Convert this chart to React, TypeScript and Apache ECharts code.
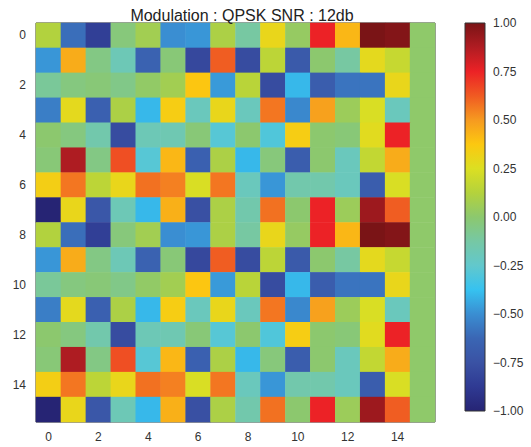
import React, { useEffect, useRef } from "react";
import * as echarts from "echarts";

const xCategories = ["0","1","2","3","4","5","6","7","8","9","10","11","12","13","14","15"];
const yCategories = ["0","1","2","3","4","5","6","7","8","9","10","11","12","13","14","15"];

const row0 = [0.12, -0.6, -0.85, -0.03, 0.07, -0.5, -0.48, 0.1, -0.12, 0.3, 0.03, 0.75, 0.42, 1.0, 0.98, 0.01];
const row1 = [-0.48, 0.45, -0.05, -0.18, -0.65, -0.02, -0.8, 0.62, -0.78, 0.15, -0.7, 0.0, -0.12, 0.28, 0.18, 0.01];
const row2 = [-0.1, -0.04, -0.02, -0.06, 0.02, 0.07, 0.38, -0.47, 0.14, -0.78, -0.4, -0.68, -0.58, -0.58, 0.3, 0.01];
const row3 = [-0.55, 0.28, -0.66, 0.1, -0.4, 0.35, -0.2, 0.3, -0.2, 0.57, -0.52, 0.48, 0.05, 0.24, -0.2, 0.01];
const row4 = [0.0, -0.04, -0.15, -0.78, -0.18, -0.17, -0.02, -0.28, 0.0, -0.3, 0.35, 0.0, -0.02, 0.27, 0.75, 0.01];
const row5 = [-0.02, 0.88, -0.05, 0.65, -0.28, 0.42, -0.66, 0.1, -0.4, -0.03, -0.68, 0.0, -0.2, 0.17, 0.45, 0.01];
const row6 = [0.34, 0.57, 0.15, 0.3, 0.58, 0.55, 0.24, 0.57, -0.2, -0.48, -0.15, -0.15, -0.2, -0.68, 0.24, 0.01];
const row7 = [-1.0, 0.3, -0.72, -0.18, -0.4, 0.44, -0.76, 0.1, -0.15, 0.58, 0.0, 0.75, 0.05, 0.92, 0.62, 0.01];
const row8 = [0.12, -0.6, -0.85, -0.03, 0.07, -0.5, -0.48, 0.1, -0.12, 0.3, 0.03, 0.75, 0.42, 1.0, 0.98, 0.01];
const row9 = [-0.48, 0.45, -0.05, -0.18, -0.65, -0.02, -0.8, 0.62, -0.78, 0.15, -0.7, 0.0, -0.12, 0.28, 0.18, 0.01];
const row10 = [-0.1, -0.04, -0.02, -0.06, 0.02, 0.07, 0.38, -0.47, 0.14, -0.78, -0.4, -0.68, -0.58, -0.58, 0.3, 0.01];
const row11 = [-0.55, 0.28, -0.66, 0.1, -0.4, 0.35, -0.2, 0.3, -0.2, 0.57, -0.52, 0.48, 0.05, 0.24, -0.2, 0.01];
const row12 = [0.0, -0.04, -0.15, -0.78, -0.18, -0.17, -0.02, -0.28, 0.0, -0.3, 0.35, 0.0, -0.02, 0.27, 0.75, 0.01];
const row13 = [-0.02, 0.88, -0.05, 0.65, -0.28, 0.42, -0.66, 0.1, -0.4, -0.03, -0.68, 0.0, -0.2, 0.17, 0.45, 0.01];
const row14 = [0.34, 0.57, 0.15, 0.3, 0.58, 0.55, 0.24, 0.57, -0.2, -0.48, -0.15, -0.15, -0.2, -0.68, 0.24, 0.01];
const row15 = [-1.0, 0.3, -0.72, -0.18, -0.4, 0.44, -0.76, 0.1, -0.15, 0.58, 0.0, 0.75, 0.05, 0.92, 0.62, 0.01];

const rows = [row0, row1, row2, row3, row4, row5, row6, row7, row8, row9, row10, row11, row12, row13, row14, row15];

const colorStops = [
  "#262474", "#2f3a93", "#3a52a4", "#3a66b4", "#3a8ed2", "#36c2f0",
  "#62c8cc", "#76c8a4", "#8cc86e", "#b4d23c", "#dcdf22", "#fcc810",
  "#f69a20", "#f05a22", "#ec2226", "#b01c22", "#7a1416",
];

export default function App() {
  const ref = useRef<HTMLDivElement>(null);
  useEffect(() => {
    if (!ref.current) return;
    const chart = echarts.init(ref.current, null, { renderer: "svg" });
    const data: number[][] = [];
    rows.forEach((r, yi) => r.forEach((v, xi) => data.push([xi, yi, v])));

    const cbLeft = 465, cbTop = 23, cbW = 20, cbH = 388;
    const n = colorStops.length;
    const gradStops = colorStops.map((_, i) => ({ offset: i / (n - 1), color: colorStops[n - 1 - i] }));

    chart.setOption({
      animation: false,
      backgroundColor: "#ffffff",
      textStyle: { fontFamily: "Liberation Sans, Arial, sans-serif" },
      title: {
        text: "Modulation : QPSK SNR : 12db",
        left: 237,
        top: 2,
        textAlign: "center",
        textStyle: { fontSize: 16, fontWeight: "normal", color: "#222" },
      },
      grid: [
        { left: 36, top: 23, width: 399, height: 399, show: true, borderColor: "#333", borderWidth: 1, backgroundColor: "transparent" },
        { left: cbLeft, top: cbTop, width: cbW, height: cbH, show: false },
      ],
      xAxis: [
        {
          type: "category",
          gridIndex: 0,
          data: xCategories,
          axisLine: { show: false },
          axisTick: { show: false },
          splitLine: { show: false },
          axisLabel: { interval: 1, color: "#333", fontSize: 12, margin: 9 },
        },
        { type: "value", gridIndex: 1, show: false, min: 0, max: 1 },
      ],
      yAxis: [
        {
          type: "category",
          gridIndex: 0,
          data: yCategories,
          inverse: true,
          axisLine: { show: false },
          axisTick: { show: false },
          splitLine: { show: false },
          axisLabel: { interval: 1, color: "#333", fontSize: 12, margin: 10 },
        },
        {
          type: "value",
          gridIndex: 1,
          position: "right",
          min: -1,
          max: 1,
          interval: 0.25,
          axisLine: { show: false },
          axisTick: { show: false },
          splitLine: { show: false },
          axisLabel: {
            color: "#333",
            fontSize: 12,
            margin: 8,
            formatter: (v: number) => (v < 0 ? "\u2212" + Math.abs(v).toFixed(2) : v.toFixed(2)),
          },
        },
      ],
      visualMap: {
        show: false,
        min: -1,
        max: 1,
        seriesIndex: 0,
        inRange: { color: colorStops },
      },
      graphic: [
        {
          type: "rect",
          shape: { x: cbLeft, y: cbTop, width: cbW, height: cbH },
          style: {
            fill: { type: "linear", x: 0, y: 0, x2: 0, y2: 1, colorStops: gradStops },
            stroke: "#333",
            lineWidth: 1,
          },
          z: 10,
        },
      ],
      series: [
        {
          type: "heatmap",
          xAxisIndex: 0,
          yAxisIndex: 0,
          data,
          itemStyle: { borderWidth: 0 },
          emphasis: { disabled: true },
        },
      ],
    });
    return () => chart.dispose();
  }, []);
  return (
    <div
      ref={ref}
      style={{ position: "fixed", left: 0, top: 0, width: 531, height: 447, background: "#fff" }}
    />
  );
}
